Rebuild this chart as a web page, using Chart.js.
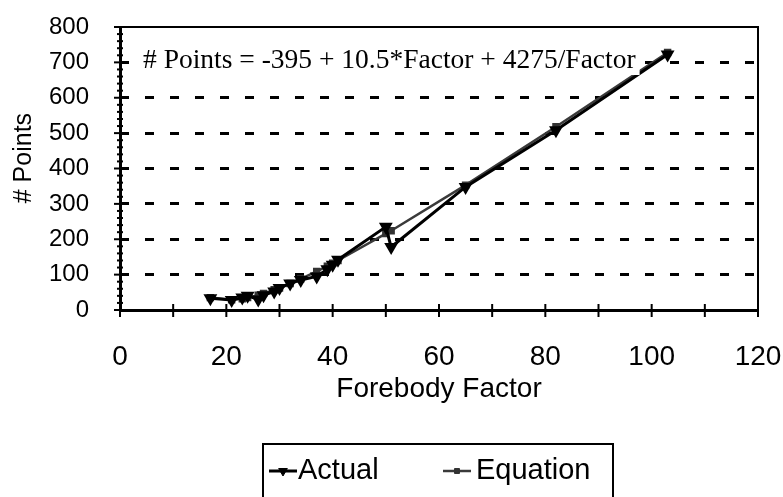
<!DOCTYPE html>
<html>
<head>
<meta charset="utf-8">
<script src="https://cdn.jsdelivr.net/npm/chart.js@4"></script>
<style>
  html, body { margin: 0; padding: 0; background: #fff; }
  #wrap { width: 783px; height: 497px; }
</style>
</head>
<body>
<div id="wrap"><canvas id="chart" width="783" height="497"></canvas></div>
<script>
// forebody factor values (x) shared by both series
const factors = [17, 21, 23, 24, 26, 27, 29, 30, 32, 34, 37, 39, 40, 41, 50, 51, 65, 82, 103];
const actualPoints = [33, 28, 35, 40, 30, 42, 52, 62, 75, 85, 95, 115, 128, 142, 235, 178, 348, 508, 722];
const equationPoints = [35, 29, 32, 35, 42, 47, 57, 62, 75, 88, 109, 124, 132, 140, 216, 224, 353, 518, 728];
const seriesNames = ["Actual", "Equation"];
const equationText = "# Points = -395 + 10.5*Factor + 4275/Factor";

const sansFont = "'Liberation Sans', Arial, sans-serif";
const serifFont = "'Liberation Serif', 'Times New Roman', serif";

function toXY(xs, ys) {
  return xs.map((x, i) => ({ x: x, y: ys[i] }));
}

// tick marks that cross the axes, plus the top/right frame
const frameAndTicks = {
  id: "frameAndTicks",
  afterDatasetsDraw(chart) {
    const { ctx, chartArea: a, scales } = chart;
    ctx.save();
    ctx.strokeStyle = "#000";
    ctx.lineWidth = 2;
    ctx.beginPath();
    ctx.moveTo(a.left, a.top);
    ctx.lineTo(a.right, a.top);
    ctx.lineTo(a.right, a.bottom);
    ctx.stroke();

    for (let v = 0; v <= 120; v += 10) {
      const px = scales.x.getPixelForValue(v);
      ctx.beginPath();
      ctx.moveTo(px, a.bottom - 6);
      ctx.lineTo(px, a.bottom + 7);
      ctx.stroke();
    }
    for (let v = 0; v <= 800; v += 20) {
      const py = scales.y.getPixelForValue(v);
      const len = v % 100 === 0 ? 6 : 3;
      ctx.beginPath();
      ctx.moveTo(a.left - len, py);
      ctx.lineTo(a.left + len, py);
      ctx.stroke();
    }
    ctx.restore();
  },
};

// equation label with white background
const equationLabel = {
  id: "equationLabel",
  afterDatasetsDraw(chart) {
    const { ctx } = chart;
    const x = 143, y = 68;
    ctx.save();
    ctx.font = "27.5px " + serifFont;
    const w = ctx.measureText(equationText).width;
    ctx.fillStyle = "#fff";
    ctx.fillRect(x - 4, y - 22, w + 8, 29);
    ctx.fillStyle = "#000";
    ctx.textBaseline = "alphabetic";
    ctx.fillText(equationText, x, y);
    ctx.restore();
  },
};

// boxed legend at the bottom
const boxLegend = {
  id: "boxLegend",
  afterDraw(chart) {
    const { ctx } = chart;
    const items = [
      { ds: chart.data.datasets[0], lx: 269, tx: 298 },
      { ds: chart.data.datasets[1], lx: 443, tx: 476 },
    ];
    ctx.save();
    ctx.strokeStyle = "#000";
    ctx.lineWidth = 2;
    ctx.strokeRect(263, 444, 350, 70);
    const y = 471;
    items.forEach((it) => {
      ctx.strokeStyle = it.ds.borderColor;
      ctx.lineWidth = it.ds.borderWidth;
      ctx.beginPath();
      ctx.moveTo(it.lx, y);
      ctx.lineTo(it.lx + 28, y);
      ctx.stroke();
      ctx.fillStyle = it.ds.pointBackgroundColor;
      ctx.strokeStyle = it.ds.pointBorderColor;
      ctx.lineWidth = 1;
      Chart.helpers.drawPoint(ctx, {
        pointStyle: it.ds.pointStyle,
        rotation: it.ds.pointRotation,
        radius: it.ds.pointRadius,
        borderWidth: 1,
      }, it.lx + 14, y);
      ctx.fillStyle = "#000";
      ctx.font = "29px " + sansFont;
      ctx.textBaseline = "middle";
      ctx.fillText(it.ds.label, it.tx, y);
    });
    ctx.restore();
  },
};

new Chart(document.getElementById("chart"), {
  type: "line",
  data: {
    datasets: [
      {
        label: seriesNames[0],
        data: toXY(factors, actualPoints),
        borderColor: "#000",
        borderWidth: 3,
        pointStyle: "triangle",
        pointRotation: 180,
        pointRadius: 5,
        pointBackgroundColor: "#000",
        pointBorderColor: "#000",
        tension: 0,
      },
      {
        label: seriesNames[1],
        data: toXY(factors, equationPoints),
        borderColor: "#3a3a3a",
        borderWidth: 2.5,
        pointStyle: "rect",
        pointRadius: 3.5,
        pointBackgroundColor: "#333",
        pointBorderColor: "#333",
        tension: 0,
      },
    ],
  },
  options: {
    responsive: false,
    animation: false,
    layout: { padding: { left: 0, top: 27, right: 25, bottom: 0 } },
    plugins: { legend: { display: false }, tooltip: { enabled: false } },
    scales: {
      x: {
        type: "linear",
        min: 0,
        max: 120,
        ticks: { stepSize: 20, padding: 0, color: "#000", font: { family: sansFont, size: 28 } },
        grid: { display: true, drawOnChartArea: false, drawTicks: true, tickLength: 30, tickColor: "rgba(0,0,0,0)" },
        border: { display: true, color: "#000", width: 3 },
        title: {
          display: true,
          text: "Forebody Factor",
          color: "#000",
          font: { family: sansFont, size: 28 },
          padding: { top: 0, bottom: 91 },
        },
        afterFit(scale) { scale.height = 187; },
      },
      y: {
        min: 0,
        max: 800,
        ticks: { stepSize: 100, padding: 0, color: "#000", font: { family: sansFont, size: 24 } },
        grid: {
          drawTicks: true,
          tickLength: 31,
          tickColor: "rgba(0,0,0,0)",
          lineWidth: 3,
          color: (c) => (c.tick && (c.tick.value === 0 || c.tick.value === 800) ? "rgba(0,0,0,0)" : "#000"),
        },
        border: { display: true, color: "#000", width: 3, dash: [9, 16], dashOffset: 2 },
        title: {
          display: true,
          text: "   # Points",
          color: "#000",
          font: { family: sansFont, size: 25 },
          padding: { top: 9, bottom: 0 },
        },
        afterFit(scale) { scale.width = 120; },
      },
    },
  },
  plugins: [frameAndTicks, equationLabel, boxLegend],
});
</script>
</body>
</html>
